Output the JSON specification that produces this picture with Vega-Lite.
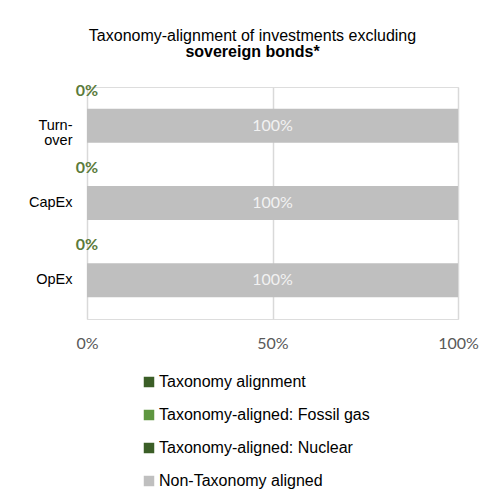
{
  "$schema": "https://vega.github.io/schema/vega-lite/v6.json",
  "width": 371,
  "height": 232,
  "autosize": "none",
  "padding": {"left": 87, "top": 87, "right": 41, "bottom": 185},
  "background": "white",
  "title": {
    "text": "Taxonomy-alignment of investments excluding",
    "subtitle": "sovereign bonds*",
    "font": "Liberation Sans",
    "fontSize": 16,
    "fontWeight": "normal",
    "color": "black",
    "subtitleFont": "Liberation Sans",
    "subtitleFontSize": 16,
    "subtitleFontWeight": "bold",
    "subtitleColor": "black",
    "subtitlePadding": 0,
    "subtitleLineHeight": 15,
    "anchor": "middle",
    "dx": -20,
    "offset": 23
  },
  "data": {
    "values": [
      {"category": "Turnover", "series": "Taxonomy alignment", "value": 0},
      {"category": "Turnover", "series": "Taxonomy-aligned: Fossil gas", "value": 0},
      {"category": "Turnover", "series": "Taxonomy-aligned: Nuclear", "value": 0},
      {"category": "Turnover", "series": "Non-Taxonomy aligned", "value": 1},
      {"category": "CapEx", "series": "Taxonomy alignment", "value": 0},
      {"category": "CapEx", "series": "Taxonomy-aligned: Fossil gas", "value": 0},
      {"category": "CapEx", "series": "Taxonomy-aligned: Nuclear", "value": 0},
      {"category": "CapEx", "series": "Non-Taxonomy aligned", "value": 1},
      {"category": "OpEx", "series": "Taxonomy alignment", "value": 0},
      {"category": "OpEx", "series": "Taxonomy-aligned: Fossil gas", "value": 0},
      {"category": "OpEx", "series": "Taxonomy-aligned: Nuclear", "value": 0},
      {"category": "OpEx", "series": "Non-Taxonomy aligned", "value": 1}
    ]
  },
  "encoding": {
    "y": {
      "field": "category",
      "type": "nominal",
      "sort": ["Turnover", "CapEx", "OpEx"],
      "scale": {"paddingInner": 0, "paddingOuter": 0},
      "axis": {
        "title": null,
        "domain": false,
        "ticks": false,
        "labelPadding": 15,
        "labelFont": "Liberation Sans",
        "labelFontSize": 14.5,
        "labelColor": "black",
        "labelLineHeight": 15,
        "labelExpr": "datum.value == 'Turnover' ? ['Turn-', 'over'] : datum.value"
      }
    }
  },
  "layer": [
    {
      "mark": {"type": "bar", "size": 34},
      "encoding": {
        "x": {
          "field": "value",
          "type": "quantitative",
          "stack": "zero",
          "scale": {"domain": [0, 1], "nice": false},
          "axis": {
            "title": null,
            "format": ".0%",
            "values": [0, 0.5, 1],
            "grid": true,
            "gridColor": "#d9d9d9",
            "gridWidth": 1.5,
            "domain": false,
            "ticks": false,
            "labelFlush": false,
            "labelPadding": 16,
            "labelFont": "Lato",
            "labelFontSize": 16,
            "labelColor": "#595959"
          }
        },
        "color": {
          "field": "series",
          "type": "nominal",
          "sort": ["Taxonomy alignment", "Taxonomy-aligned: Fossil gas", "Taxonomy-aligned: Nuclear", "Non-Taxonomy aligned"],
          "scale": {
            "domain": ["Taxonomy alignment", "Taxonomy-aligned: Fossil gas", "Taxonomy-aligned: Nuclear", "Non-Taxonomy aligned"],
            "range": ["#3b5e27", "#5e9640", "#3b5e27", "#bfbfbf"]
          },
          "legend": {
            "title": null,
            "orient": "none",
            "legendX": 54,
            "legendY": 287,
            "direction": "vertical",
            "symbolType": "square",
            "symbolSize": 110,
            "symbolStrokeWidth": 0,
            "symbolOpacity": 1,
            "labelFont": "Liberation Sans",
            "labelFontSize": 16,
            "labelColor": "black",
            "labelOffset": 2,
            "labelLimit": 300,
            "rowPadding": 17
          }
        }
      }
    },
    {
      "transform": [{"filter": "datum.series == 'Non-Taxonomy aligned'"}],
      "mark": {"type": "text", "font": "Lato", "fontSize": 16, "color": "#f2f2f2"},
      "encoding": {
        "x": {"datum": 0.5, "type": "quantitative"},
        "text": {"field": "value", "type": "quantitative", "format": ".0%"}
      }
    },
    {
      "transform": [{"filter": "datum.series == 'Taxonomy alignment'"}],
      "mark": {"type": "text", "font": "Lato", "fontSize": 16, "fontWeight": "bold", "color": "#5b7b3b", "dy": -35},
      "encoding": {
        "x": {"field": "value", "type": "quantitative"},
        "text": {"field": "value", "type": "quantitative", "format": ".0%"}
      }
    }
  ]
}
